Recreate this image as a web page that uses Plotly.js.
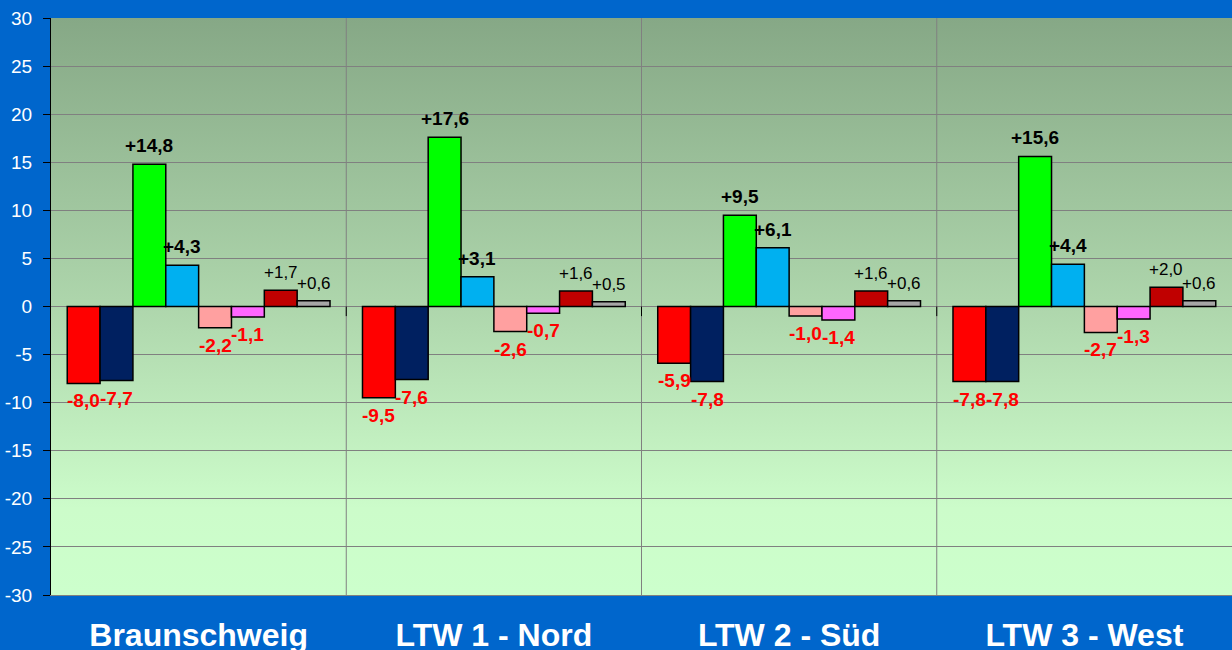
<!DOCTYPE html>
<html>
<head>
<meta charset="utf-8">
<script src="https://cdn.plot.ly/plotly-3.0.1.min.js"></script>
<style>html,body{margin:0;padding:0;background:#0066CC;}#chart{width:1232px;height:650px;}</style>
</head>
<body>
<div id="chart"></div>
<script>
// ---- data ----
const categories = ["Braunschweig", "LTW 1 - Nord", "LTW 2 - Süd", "LTW 3 - West"];
const series1 = [-8.0, -9.5, -5.9, -7.8];   // red
const series2 = [-7.7, -7.6, -7.8, -7.8];   // navy
const series3 = [14.8, 17.6, 9.5, 15.6];    // green
const series4 = [4.3, 3.1, 6.1, 4.4];       // light blue
const series5 = [-2.2, -2.6, -1.0, -2.7];   // pink
const series6 = [-1.1, -0.7, -1.4, -1.3];   // magenta
const series7 = [1.7, 1.6, 1.6, 2.0];       // dark red
const series8 = [0.6, 0.5, 0.6, 0.6];       // gray
const yTicks = [-30, -25, -20, -15, -10, -5, 0, 5, 10, 15, 20, 25, 30];

const allSeries = [series1, series2, series3, series4, series5, series6, series7, series8];
const colors = ["#FF0000", "#002060", "#00FF00", "#00B0F0", "#FFA0A0", "#FF66FF", "#C00000", "#A6A6A6"];
const boldFlags = [true, true, true, true, true, true, false, false];

const BARGAP = 0.11;
const nSeries = allSeries.length;
const barW = (1 - BARGAP) / nSeries;

function fmt(v) {
  const s = Math.abs(v).toFixed(1).replace('.', ',');
  return (v >= 0 ? '+' : '-') + s;
}

const xIdx = categories.map((c, i) => i);

const traces = allSeries.map((vals, k) => ({
  type: 'bar',
  x: xIdx,
  y: vals,
  marker: { color: colors[k], line: { color: '#000000', width: 1.5 } },
  hoverinfo: 'skip',
  showlegend: false
}));

// value labels placed at each bar's end (bar centre derived from the group layout)
const annotations = [];
allSeries.forEach((vals, k) => {
  const off = -(1 - BARGAP) / 2 + (k + 0.5) * barW;
  vals.forEach((v, i) => {
    annotations.push({
      xref: 'x', yref: 'y', x: i + off, y: v,
      text: fmt(v), showarrow: false,
      xanchor: 'center', yanchor: v < 0 ? 'top' : 'bottom',
      yshift: v < 0 ? -5 : 6,
      font: {
        family: 'Liberation Sans, Arial, sans-serif',
        size: boldFlags[k] ? 19 : 17,
        weight: boldFlags[k] ? 'bold' : 'normal',
        color: v < 0 ? '#FF0000' : '#000000'
      }
    });
  });
});

const gradSvg = '<svg xmlns="http://www.w3.org/2000/svg" width="100" height="100" preserveAspectRatio="none">' +
  '<defs><linearGradient id="g" x1="0" y1="0" x2="0" y2="1">' +
  '<stop offset="0" stop-color="#86A886"/>' +
  '<stop offset="0.5" stop-color="#AED6AC"/>' +
  '<stop offset="0.85" stop-color="#CCFCCA"/>' +
  '<stop offset="1" stop-color="#CCFFCC"/>' +
  '</linearGradient></defs><rect width="100" height="100" fill="url(#g)"/></svg>';
const gradUri = 'data:image/svg+xml;charset=utf-8,' + encodeURIComponent(gradSvg);

const shapes = [];
[0.5, 1.5, 2.5].forEach(b => {
  shapes.push({ type: 'line', xref: 'x', yref: 'paper', x0: b, x1: b, y0: 0, y1: 1,
    line: { color: '#808080', width: 1 }, layer: 'below' });
  shapes.push({ type: 'line', xref: 'x', yref: 'y', x0: b, x1: b, y0: 0, y1: -1,
    line: { color: '#000000', width: 1 }, layer: 'above' });
});
shapes.push({ type: 'line', xref: 'paper', yref: 'y', x0: 0, x1: 1, y0: 0, y1: 0,
  line: { color: '#000000', width: 1 }, layer: 'below' });

const layout = {
  width: 1232, height: 650,
  paper_bgcolor: '#0066CC',
  plot_bgcolor: 'rgba(0,0,0,0)',
  margin: { l: 51, r: 0, t: 18, b: 55 },
  barmode: 'group',
  bargap: BARGAP,
  bargroupgap: 0,
  font: { family: 'Liberation Sans, Arial, sans-serif' },
  xaxis: {
    range: [-0.5, 3.5],
    tickvals: xIdx,
    ticktext: categories,
    showgrid: false,
    zeroline: false,
    ticks: '',
    ticklabelstandoff: 12,
    tickfont: { family: 'Liberation Sans, Arial, sans-serif', size: 32, color: '#FFFFFF', weight: 'bold' },
    showline: true, linecolor: '#808080', linewidth: 1,
    fixedrange: true
  },
  yaxis: {
    range: [-30, 30],
    tickvals: yTicks,
    ticktext: yTicks.map(String),
    showgrid: true, gridcolor: '#808080', gridwidth: 1,
    zeroline: false,
    ticks: 'outside', ticklen: 7, tickcolor: '#000000', tickwidth: 1,
    ticklabelstandoff: 7,
    showline: true, linecolor: '#000000', linewidth: 1,
    tickfont: { family: 'Liberation Sans, Arial, sans-serif', size: 19, color: '#FFFFFF' },
    fixedrange: true
  },
  images: [{
    source: gradUri, xref: 'paper', yref: 'paper', x: 0, y: 1, sizex: 1, sizey: 1,
    xanchor: 'left', yanchor: 'top', sizing: 'stretch', layer: 'below'
  }],
  annotations: annotations,
  shapes: shapes,
  showlegend: false
};

Plotly.newPlot('chart', traces, layout, { displayModeBar: false, staticPlot: true });
</script>
</body>
</html>
